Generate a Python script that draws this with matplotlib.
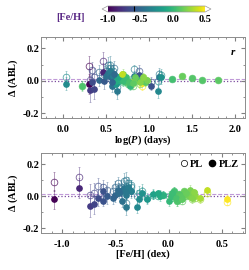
import matplotlib
matplotlib.use('Agg')
import matplotlib.pyplot as plt
import numpy as np
from matplotlib.ticker import MultipleLocator
from matplotlib.lines import Line2D

plt.rcParams['font.family'] = ['Liberation Serif', 'DejaVu Serif']
plt.rcParams['font.weight'] = 'bold'
plt.rcParams['axes.labelweight'] = 'bold'
plt.rcParams['axes.unicode_minus'] = False
plt.rcParams['mathtext.fontset'] = 'custom'
plt.rcParams['mathtext.it'] = 'Liberation Serif:italic:bold'
plt.rcParams['mathtext.rm'] = 'Liberation Serif:bold'

# star data: period, metallicity, residuals with PL / PLZ relations, errors
logP = [0.03, 0.22, 0.30, 0.31, 0.33, 0.36, 0.42, 0.46, 0.48, 0.50,
        0.52, 0.54, 0.55, 0.56, 0.57, 0.58, 0.60, 0.61, 0.62, 0.63,
        0.66, 0.68, 0.70, 0.72, 0.74, 0.76, 0.78, 0.80, 0.83, 0.86,
        0.88, 0.90, 0.92, 0.95, 0.98, 1.02, 1.10, 1.12, 1.14, 1.27,
        1.38, 1.50, 1.62, 1.80, 0.66, 0.70, 0.73, 0.77, 0.81, 0.84,
        0.89, 0.93, 0.64, 0.69, 0.59, 0.57]
feh = [-0.28, 0.08, -1.08, -0.74, -0.66, -0.70, -0.50, -0.84, -0.58, -0.45,
       -0.42, -0.40, -0.38, -0.47, -0.44, -0.35, -0.40, -0.20, -0.08, -0.40,
       -0.15, 0.05, 0.20, 0.15, 0.25, 0.10, 0.00, 0.30, -0.35, 0.18,
       -0.62, 0.05, 0.55, 0.12, 0.20, -0.62, -0.30, -0.40, -0.25, 0.05,
       0.15, 0.10, 0.10, 0.12, -0.05, 0.02, 0.03, 0.07, 0.13, 0.16,
       0.22, 0.24, -0.10, 0.36, -0.48, -0.52]
d_pl = [0.022, -0.030, 0.090, 0.005, 0.065, 0.020, 0.055, 0.120, 0.040, 0.060,
        0.095, 0.100, 0.080, 0.050, 0.030, 0.060, 0.030, -0.010, 0.010, -0.040,
        0.010, 0.030, 0.020, 0.000, -0.010, -0.020, 0.000, -0.020, 0.070, 0.010,
        0.060, 0.000, -0.035, -0.010, 0.000, -0.010, 0.000, 0.040, 0.035, 0.010,
        0.030, 0.015, 0.005, 0.003, 0.010, -0.010, 0.000, -0.020, -0.030, 0.000,
        -0.020, 0.020, 0.000, 0.020, 0.080, 0.030]
d_plz = [-0.018, -0.032, -0.020, -0.060, -0.008, -0.050, 0.005, 0.052, 0.000, 0.030,
         0.050, 0.040, 0.060, 0.020, -0.030, 0.030, 0.010, -0.020, 0.000, -0.065,
         0.015, 0.030, 0.040, 0.010, 0.000, -0.010, -0.030, -0.010, 0.030, 0.005,
         0.035, 0.005, -0.015, -0.005, 0.005, -0.030, -0.065, 0.025, 0.020, 0.010,
         0.030, 0.015, 0.005, 0.003, 0.010, 0.000, 0.020, -0.010, -0.015, 0.020,
         -0.010, 0.025, 0.020, 0.040, 0.040, -0.010]
err = [0.04, 0.03, 0.06, 0.07, 0.05, 0.06, 0.04, 0.06, 0.05, 0.04,
       0.05, 0.05, 0.04, 0.03, 0.04, 0.04, 0.03, 0.03, 0.03, 0.05,
       0.03, 0.03, 0.03, 0.02, 0.02, 0.02, 0.03, 0.02, 0.03, 0.02,
       0.04, 0.02, 0.02, 0.02, 0.02, 0.03, 0.04, 0.04, 0.04, 0.01,
       0.01, 0.01, 0.01, 0.01, 0.02, 0.02, 0.02, 0.02, 0.02, 0.02,
       0.02, 0.02, 0.02, 0.02, 0.04, 0.04]

feh_ticks = [-1.0, -0.5, 0.0, 0.5]

cmap = plt.cm.viridis
norm = plt.Normalize(-1.0, 0.5)
cols = cmap(norm(np.clip(feh, -1.0, 0.5)))

fig = plt.figure(figsize=(2.49, 2.70), dpi=100)
ax1 = fig.add_axes([0.165, 0.563, 0.819, 0.300])
ax2 = fig.add_axes([0.165, 0.137, 0.819, 0.296])

def panel(ax, xv):
    for i in range(len(xv)):
        c = cols[i]
        ax.errorbar(xv[i], d_pl[i], yerr=err[i], fmt='none', ecolor=c, alpha=0.45,
                    elinewidth=0.6, capsize=1.0, capthick=0.5, zorder=2)
        ax.errorbar(xv[i], d_plz[i], yerr=err[i], fmt='none', ecolor=c, alpha=0.45,
                    elinewidth=0.6, capsize=1.0, capthick=0.5, zorder=2)
        ax.plot(xv[i], d_pl[i], 'o', mfc='none', mec=c, ms=4.8, mew=0.6, alpha=0.75, zorder=3)
        ax.plot(xv[i], d_plz[i], 'o', mfc=c, mec=c, ms=3.8, zorder=4)
    ax.axhline(0.013, color='#c09ad8', ls='--', lw=0.8, zorder=1)
    ax.axhline(0.0, color='#7a4a9e', ls=':', lw=0.9, zorder=1)
    ax.set_ylim(-0.23, 0.27)
    ax.yaxis.set_major_locator(MultipleLocator(0.2))
    ax.yaxis.set_minor_locator(MultipleLocator(0.1))
    ax.set_ylabel(r'$\Delta$ (ABL)', fontsize=7.5, labelpad=2, fontweight='bold')
    ax.tick_params(which='both', direction='in', top=True, right=True,
                   labelsize=7.5, color='0.5')
    ax.tick_params(axis='x', pad=5)
    ax.tick_params(axis='y', pad=1.5)
    ax.tick_params(which='major', length=3)
    ax.tick_params(which='minor', length=1.5)
    for s in ax.spines.values():
        s.set_color('0.55')
        s.set_linewidth(0.7)

panel(ax1, logP)
ax1.set_xlim(-0.26, 2.12)
ax1.xaxis.set_major_locator(MultipleLocator(0.5))
ax1.xaxis.set_minor_locator(MultipleLocator(0.1))
ax1.set_xlabel(r'log($P$) (days)', fontsize=7.5, labelpad=0, fontweight='bold')
ax1.text(0.93, 0.78, 'r', transform=ax1.transAxes, fontsize=8,
         style='italic', fontweight='bold')

panel(ax2, feh)
ax2.set_xlim(-1.2, 0.72)
ax2.xaxis.set_major_locator(MultipleLocator(0.5))
ax2.xaxis.set_minor_locator(MultipleLocator(0.1))
ax2.set_xlabel('[Fe/H] (dex)', fontsize=7.5, labelpad=0, fontweight='bold')
handles = [Line2D([], [], ls='none', marker='o', mfc='none', mec='k', ms=4.5, mew=0.5),
           Line2D([], [], ls='none', marker='o', mfc='k', mec='k', ms=4.5)]
ax2.legend(handles, ['PL', 'PLZ'], ncol=2, loc='upper right', frameon=False,
           prop={'size': 7.5, 'weight': 'bold'}, handletextpad=0.1,
           columnspacing=0.4, borderaxespad=0.2, handlelength=1.0)

# colorbar on top
cax = fig.add_axes([102 / 249, 1 - 12 / 270, 109 / 249, 6 / 270])
cm2 = plt.cm.viridis.copy()
cm2.set_under('white')
cm2.set_over('white')
sm = plt.cm.ScalarMappable(norm=norm, cmap=cm2)
cb = fig.colorbar(sm, cax=cax, orientation='horizontal', extend='both',
                  extendfrac=0.06, ticks=feh_ticks)
cb.ax.tick_params(length=0, labelsize=7.5, pad=2)
cb.outline.set_edgecolor('0.6')
cb.outline.set_linewidth(0.5)
cb.ax.axvline(-0.59, color='k', lw=0.8)
fig.text(85 / 249, 1 - 17 / 270, '[Fe/H]', fontsize=7.5, color='#5b2a86',
         ha='right', va='center', fontweight='bold')

for a in (ax1, ax2, cax):
    for lab in a.get_xticklabels() + a.get_yticklabels():
        lab.set_fontweight('bold')

fig.savefig('out.png', dpi=100)
